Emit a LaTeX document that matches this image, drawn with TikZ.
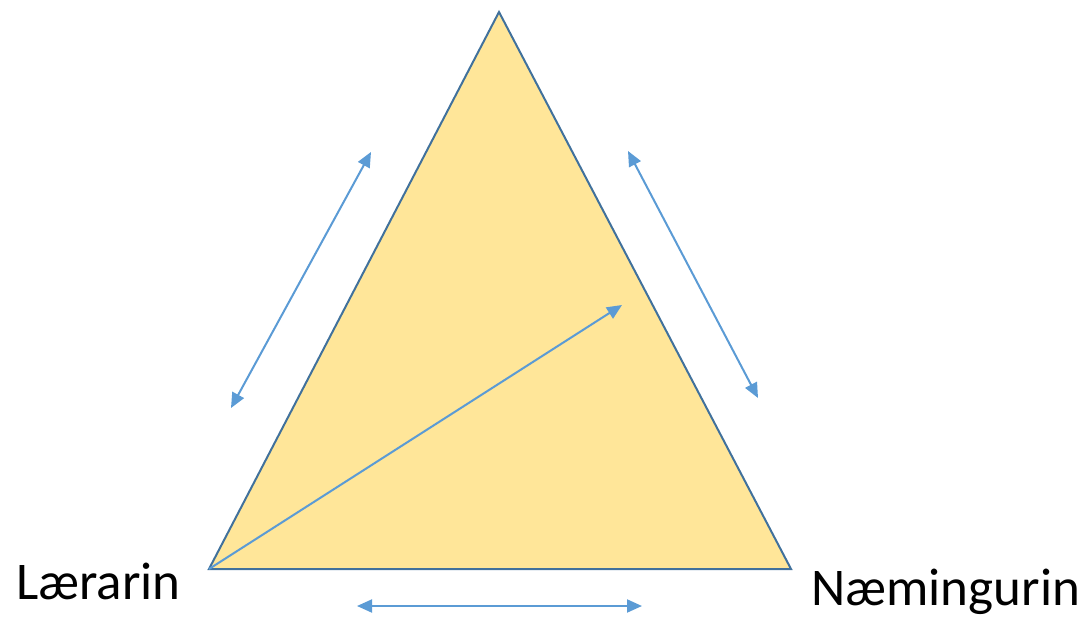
\documentclass[tikz,border=0pt]{standalone}
\usepackage{fontspec}
\setmainfont{Carlito}
\usetikzlibrary{arrows.meta}
\definecolor{tribord}{HTML}{41719C}
\definecolor{trifill}{HTML}{FFE699}
\definecolor{arrowblue}{HTML}{5B9BD5}
\tikzset{
  tri/.style={draw=tribord, fill=trifill, line width=2pt, line join=miter},
  darrow/.style={draw=arrowblue, line width=2pt, {Triangle[length=15pt,width=13pt]}-{Triangle[length=15pt,width=13pt]}},
  sarrow/.style={draw=arrowblue, line width=2pt, -{Triangle[length=15pt,width=13pt]}},
  lbl/.style={font=\fontsize{53}{62}\selectfont, inner sep=0pt, anchor=base west}
}
\begin{document}
\begin{tikzpicture}[x=1pt,y=-1pt]
\useasboundingbox (0,0) rectangle (1086,620);
\coordinate (top) at (499,12);
\coordinate (bl) at (209,569);
\coordinate (br) at (791,569);
\draw[tri] (top) -- (bl) -- (br) -- cycle;
\coordinate (l1) at (231,408);
\coordinate (l2) at (371,152);
\coordinate (r1) at (628,151);
\coordinate (r2) at (758,398);
\coordinate (b1) at (357,606);
\coordinate (b2) at (642,606);
\coordinate (inner) at (622,305);
\draw[darrow] (l1) -- (l2);
\draw[darrow] (r1) -- (r2);
\draw[darrow] (b1) -- (b2);
\draw[sarrow] (bl) -- (inner);
\node[lbl] (teacher) at (16,599) {Lærarin};
\node[lbl] (student) at (811,605) {Næmingurin};
\end{tikzpicture}
\end{document}
